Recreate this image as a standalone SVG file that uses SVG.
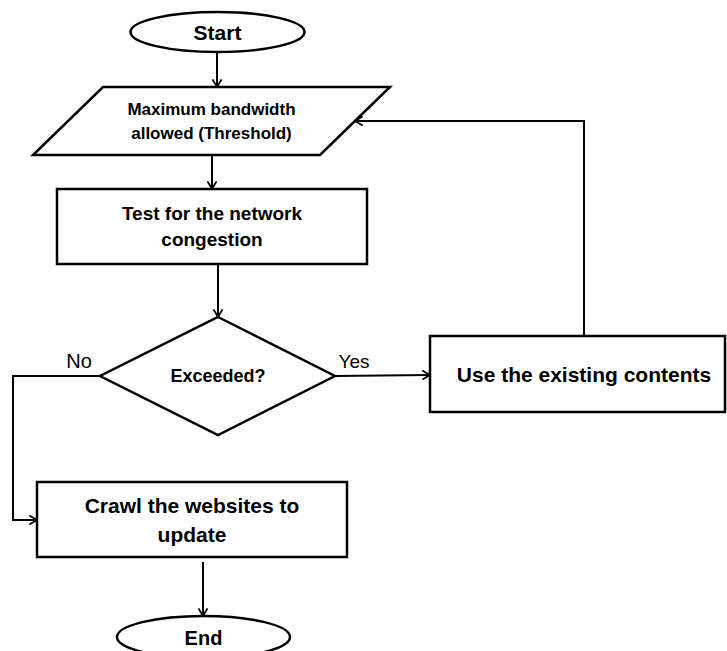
<svg xmlns="http://www.w3.org/2000/svg" width="727" height="651" viewBox="0 0 727 651">
<style>
.shape{fill:#fff;stroke:#000;stroke-width:2.5}
.edge{fill:none;stroke:#000;stroke-width:2}
.t{font-family:"Liberation Sans",Arial,sans-serif;font-weight:bold;fill:#000;text-anchor:middle}
.lbl{font-family:"Liberation Sans",Arial,sans-serif;fill:#000;text-anchor:middle}
</style>
<defs>
<marker id="arr" viewBox="0 0 10 12" refX="9.5" refY="6" markerWidth="9" markerHeight="12" markerUnits="userSpaceOnUse" orient="auto">
<path d="M1,1 L9.5,6 L1,11" fill="none" stroke="#000" stroke-width="2"/>
</marker>
</defs>
<rect width="727" height="651" fill="#fff"/>
<g id="connectors">
<path class="edge" d="M217,52 L217,87" marker-end="url(#arr)"/>
<path class="edge" d="M212,155 L212,189" marker-end="url(#arr)"/>
<path class="edge" d="M218,264 L218,317" marker-end="url(#arr)"/>
<path class="edge" d="M335,376 L430,375" marker-end="url(#arr)"/>
<path class="edge" d="M100,376 L13,376 L13,520 L37,520" marker-end="url(#arr)"/>
<path class="edge" d="M584,336 L584,121 L355,121" marker-end="url(#arr)"/>
<path class="edge" d="M203,562 L203,616" marker-end="url(#arr)"/>
<text class="lbl" x="79" y="368" font-size="20">No</text>
<text class="lbl" x="354" y="368" font-size="19">Yes</text>
</g>
<g id="start">
<ellipse class="shape" cx="217.5" cy="32" rx="87" ry="20"/>
<text class="t" x="217.5" y="40" font-size="21">Start</text>
</g>
<g id="threshold">
<polygon class="shape" points="103,87 390,87 320,155 33,155"/>
<text class="t" x="211.5" y="115" font-size="17">Maximum bandwidth</text>
<text class="t" x="211.5" y="139" font-size="17">allowed (Threshold)</text>
</g>
<g id="test">
<rect class="shape" x="57" y="189" width="310" height="75"/>
<text class="t" x="212" y="220" font-size="19">Test for the network</text>
<text class="t" x="212" y="246" font-size="19">congestion</text>
</g>
<g id="decision">
<polygon class="shape" points="218,317 335,376 218,435 100,376"/>
<text class="t" x="218" y="382" font-size="18">Exceeded?</text>
</g>
<g id="use">
<rect class="shape" x="430" y="336" width="295" height="76"/>
<text class="t" x="584" y="382" font-size="21">Use the existing contents</text>
</g>
<g id="crawl">
<rect class="shape" x="37" y="482" width="310" height="75"/>
<text class="t" x="192" y="513" font-size="21">Crawl the websites to</text>
<text class="t" x="192" y="542" font-size="21">update</text>
</g>
<g id="end">
<ellipse class="shape" cx="203.5" cy="637" rx="86.5" ry="21"/>
<text class="t" x="203.5" y="645" font-size="20">End</text>
</g>
</svg>
